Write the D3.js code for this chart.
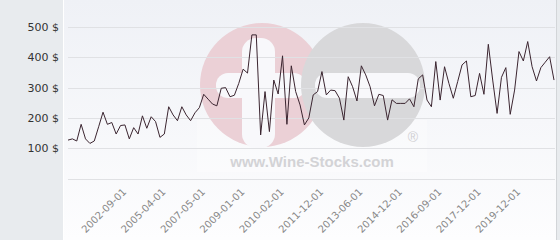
<!DOCTYPE html>
<html>
<head>
<meta charset="utf-8">
<script src="https://cdn.jsdelivr.net/npm/d3@7"></script>
<style>
html,body{margin:0;padding:0;background:#fff;}
svg{display:block;}
</style>
</head>
<body>
<svg id="chart" width="560" height="240"></svg>
<script>
// ---- data ----
const values = [127,131,124,179,131,116,124,171,219,179,185,147,175,177,131,168,147,207,166,204,
  188,136,147,237,210,191,237,210,191,217,234,278,262,246,240,298,300,270,275,314,
  361,348,474,474,144,287,155,325,279,405,179,372,287,243,177,200,276,287,353,276,
  292,290,265,193,336,303,256,372,342,303,240,278,274,193,260,248,248,248,263,237,
  329,342,259,237,386,259,369,314,265,320,375,388,270,274,347,278,443,325,215,334,
  366,212,292,419,388,452,369,322,366,384,402,325];
const tickLabels = ["2002-09-01","2005-04-01","2007-05-01","2009-01-01","2010-02-01","2011-12-01",
  "2013-06-01","2014-12-01","2016-09-01","2017-12-01","2019-12-01"];
const tickIndex = [13,22,31,40,49,58,67,76,85,94,103];
const yTicks = [100,200,300,400,500];
const yGrid = [0,100,200,300,400,500];

const W = 560, H = 240;
const svg = d3.select("#chart");
const defs = svg.append("defs");
const grad = defs.append("linearGradient").attr("id","bg").attr("x1",0).attr("y1",0).attr("x2",0).attr("y2",1);
grad.append("stop").attr("offset","0%").attr("stop-color","#eff1f6");
grad.append("stop").attr("offset","100%").attr("stop-color","#fdfdfe");

// panels
svg.append("rect").attr("x",0).attr("y",0).attr("width",W).attr("height",H).attr("fill","#e8ebee");
svg.append("rect").attr("x",63).attr("y",0).attr("width",494).attr("height",H).attr("fill","url(#bg)");
svg.append("line").attr("x1",63.5).attr("x2",63.5).attr("y1",0).attr("y2",H).attr("stroke","#ffffff");
svg.append("line").attr("x1",556.5).attr("x2",556.5).attr("y1",0).attr("y2",H).attr("stroke","#d2d5d8");

const x = d3.scaleLinear().domain([0, values.length-1]).range([68, 554]);
const y = d3.scaleLinear().domain([0, 500]).range([178.6, 27]);

// watermark
const wm = svg.append("g");
wm.append("rect").attr("x",197).attr("y",120).attr("width",230).attr("height",52).attr("fill","#ffffff").attr("opacity",0.3);
wm.append("circle").attr("cx",262).attr("cy",85).attr("r",62).attr("fill","#ebd0d6");
wm.append("rect").attr("x",242).attr("y",38).attr("width",33).attr("height",110).attr("rx",14).attr("fill","#f8f8fb");
wm.append("rect").attr("x",216).attr("y",73).attr("width",90).attr("height",25).attr("rx",12).attr("fill","#f8f8fb");
wm.append("circle").attr("cx",363).attr("cy",85).attr("r",62).attr("fill","#d8d8da");
wm.append("rect").attr("x",315).attr("y",73).attr("width",105).attr("height",25).attr("rx",12).attr("fill","#f8f8fb");
wm.append("text").attr("x",413).attr("y",142).attr("text-anchor","middle")
  .attr("font-family","Liberation Sans, Arial, sans-serif").attr("font-size",14).attr("fill","#cfcfd2").text("®");
wm.append("text").attr("x",312).attr("y",167).attr("text-anchor","middle")
  .attr("font-family","Liberation Sans, Arial, sans-serif").attr("font-weight","bold").attr("font-size",15)
  .attr("fill","#d3d3d6").text("www.Wine-Stocks.com");

// grid
svg.append("g").selectAll("line").data(yGrid).join("line")
  .attr("x1",68).attr("x2",555)
  .attr("y1",d=>Math.round(y(d))+0.5).attr("y2",d=>Math.round(y(d))+0.5)
  .attr("stroke","#e0e1e4").attr("stroke-width",1);

// y labels
svg.append("g").selectAll("text").data(yTicks).join("text")
  .attr("x",59).attr("y",d=>y(d)+4)
  .attr("text-anchor","end")
  .attr("font-family","DejaVu Sans, sans-serif").attr("font-size",11).attr("fill","#333")
  .text(d=>d+" $");

// x labels
svg.append("g").selectAll("text").data(tickIndex).join("text")
  .attr("text-anchor","end")
  .attr("transform",d=>`translate(${x(d)+2},192.5) rotate(-45)`)
  .attr("font-family","DejaVu Sans, sans-serif").attr("font-size",10).attr("fill","#888")
  .text((d,i)=>tickLabels[i]);

// line
const line = d3.line().x((d,i)=>x(i)).y(d=>y(d));
svg.append("path").datum(values).attr("d",line)
  .attr("fill","none").attr("stroke","#3b2530").attr("stroke-width",1);
</script>
</body>
</html>
